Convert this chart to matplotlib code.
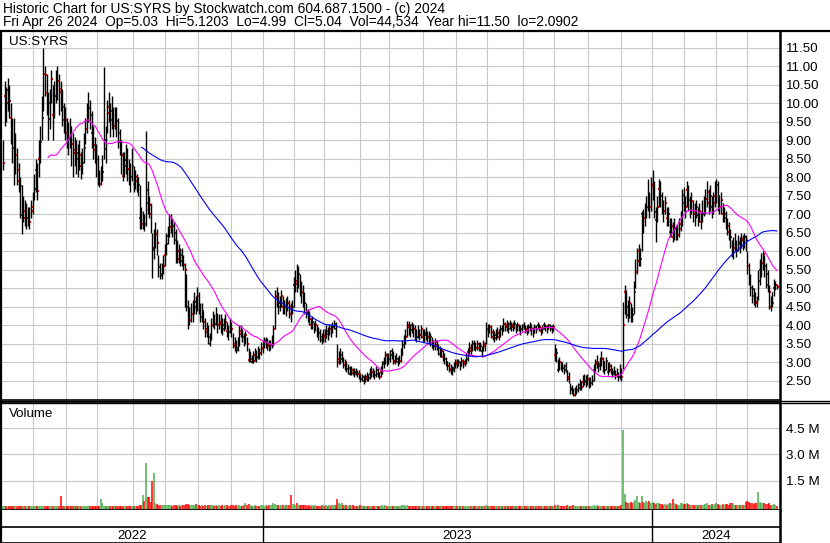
import matplotlib
matplotlib.use('Agg')
import matplotlib.pyplot as plt
from matplotlib.lines import Line2D
import numpy as np
import pandas as pd

plt.rcParams['font.family'] = ['Liberation Sans', 'DejaVu Sans']

# --- daily bars (US:SYRS, May 2022 - Apr 2024) ---
cl_2022 = [8.40, 10.20, 10.00, 10.35, 10.07, 9.60, 8.80, 8.30, 8.60, 8.20,
           7.90, 7.76, 6.98, 7.10, 6.90, 6.90, 7.00, 6.80, 7.10, 7.20,
           7.70, 8.20, 7.64, 8.50, 8.96, 9.60, 10.80, 10.78, 10.28, 9.57,
           10.00, 10.67, 9.68, 10.20, 10.49, 10.60, 10.40, 10.30, 9.90, 9.55,
           9.55, 9.20, 9.05, 9.30, 8.90, 8.67, 8.75, 8.65, 8.50, 8.60,
           8.30, 8.40, 8.80, 9.32, 9.60, 9.88, 9.70, 9.20, 8.87, 8.73,
           8.50, 8.00, 7.83, 8.00, 8.15, 9.00, 8.78, 9.73, 9.90, 9.55,
           9.80, 9.40, 9.60, 9.52, 9.20, 8.96, 8.60, 8.04, 8.30, 8.48,
           8.24, 8.10, 8.00, 8.30, 7.83, 8.00, 7.90, 7.80, 6.90, 6.75,
           6.80, 6.75, 7.65, 7.30, 7.25, 7.00, 6.03, 6.10, 6.48, 6.23,
           5.58, 5.33, 5.40, 5.60, 5.90, 6.20, 6.42, 6.66, 6.80, 6.70,
           6.50, 6.30, 5.80, 6.00, 5.73, 5.90, 5.63, 5.50, 4.49, 4.40,
           4.14, 4.30, 4.30, 4.64, 4.50, 4.80, 4.46, 4.23, 4.40, 4.10,
           3.82, 3.90, 3.70, 3.51, 4.00, 4.20, 4.05, 4.30, 4.00, 4.10,
           4.05, 3.90, 4.00, 4.10, 3.85, 3.82, 4.00, 3.90, 3.50, 3.45,
           3.33, 3.40, 3.78, 3.85, 3.70, 3.60, 3.75, 3.50, 3.06, 3.10,
           3.01, 3.05, 3.20, 3.15, 3.30, 3.25, 3.37, 3.40]
hi_2022 = [9.00, 10.60, 10.45, 10.70, 10.50, 10.00, 9.60, 9.60, 9.20, 8.80,
           8.40, 8.00, 7.80, 7.50, 7.40, 7.30, 7.20, 7.20, 7.40, 7.60,
           8.10, 8.50, 8.40, 9.00, 9.40, 10.20, 11.50, 11.00, 10.80, 10.30,
           10.40, 10.90, 10.50, 10.60, 10.90, 11.00, 10.80, 10.60, 10.40, 10.00,
           9.90, 9.60, 9.50, 9.60, 9.40, 9.20, 9.10, 9.00, 8.90, 9.00,
           8.70, 8.80, 9.20, 9.60, 10.00, 10.30, 10.10, 9.80, 9.40, 9.10,
           8.90, 8.60, 8.20, 8.30, 8.60, 10.99, 9.40, 10.10, 10.30, 10.00,
           10.20, 9.90, 9.90, 9.90, 9.60, 9.30, 9.00, 8.70, 8.70, 8.90,
           8.80, 8.50, 8.40, 8.80, 8.30, 8.20, 8.10, 8.00, 7.80, 7.20,
           7.10, 7.00, 9.26, 7.90, 7.50, 7.30, 6.50, 6.60, 6.80, 6.60,
           5.90, 5.70, 5.70, 5.90, 6.20, 6.50, 6.70, 7.00, 7.00, 6.90,
           6.80, 6.60, 6.30, 6.20, 6.10, 6.10, 5.90, 5.70, 5.40, 4.70,
           4.50, 4.60, 4.70, 4.90, 4.80, 5.04, 4.90, 4.60, 4.60, 4.40,
           4.20, 4.10, 4.00, 3.80, 4.20, 4.40, 4.30, 4.50, 4.30, 4.30,
           4.30, 4.20, 4.20, 4.30, 4.10, 4.00, 4.20, 4.10, 3.80, 3.70,
           3.60, 3.70, 4.00, 4.00, 3.90, 3.80, 3.85, 3.70, 3.40, 3.30,
           3.20, 3.30, 3.40, 3.35, 3.45, 3.40, 3.55, 3.60]
lo_2022 = [8.20, 9.40, 9.50, 9.80, 9.60, 8.90, 8.40, 7.80, 8.10, 7.80,
           7.60, 6.90, 6.48, 6.80, 6.70, 6.60, 6.70, 6.60, 6.90, 7.00,
           7.40, 7.60, 7.40, 8.00, 8.40, 9.00, 9.80, 10.20, 9.70, 9.00,
           9.30, 10.00, 9.00, 9.60, 10.00, 10.10, 9.70, 9.80, 9.40, 9.20,
           9.00, 8.80, 8.60, 8.80, 8.30, 8.00, 8.30, 8.10, 8.00, 8.20,
           7.97, 8.10, 8.40, 8.90, 9.20, 9.50, 9.30, 8.80, 8.50, 8.40,
           8.00, 7.80, 7.75, 7.80, 7.90, 8.50, 8.40, 9.20, 9.50, 9.10,
           9.30, 9.10, 9.30, 9.10, 8.80, 8.60, 8.10, 7.90, 8.00, 8.10,
           7.90, 7.80, 7.60, 7.90, 7.60, 7.70, 7.60, 7.50, 6.60, 6.60,
           6.60, 6.55, 6.70, 7.00, 6.90, 6.50, 5.27, 5.80, 6.10, 5.90,
           5.30, 5.25, 5.25, 5.40, 5.60, 5.90, 6.20, 6.40, 6.50, 6.40,
           6.20, 5.70, 5.70, 5.70, 5.60, 5.60, 5.50, 4.50, 4.40, 3.90,
           4.00, 4.10, 4.10, 4.30, 4.30, 4.40, 4.30, 4.10, 4.10, 3.90,
           3.70, 3.70, 3.50, 3.45, 3.60, 3.95, 3.90, 4.00, 3.80, 3.90,
           3.80, 3.75, 3.85, 3.90, 3.70, 3.60, 3.80, 3.70, 3.40, 3.30,
           3.25, 3.30, 3.45, 3.70, 3.55, 3.45, 3.50, 3.30, 3.00, 3.00,
           2.98, 2.98, 3.05, 3.00, 3.10, 3.10, 3.20, 3.25]

cl_2023 = [3.55, 3.60, 3.50, 3.45, 3.46, 3.50, 3.91, 4.77, 4.80, 4.50,
           4.60, 4.80, 4.50, 4.50, 4.45, 4.60, 4.50, 4.30, 4.50, 5.09,
           5.20, 5.13, 5.40, 5.00, 4.90, 4.73, 4.60, 4.36, 4.30, 4.18,
           4.00, 4.10, 3.95, 4.00, 3.87, 3.80, 3.69, 3.60, 3.75, 3.70,
           3.85, 3.78, 3.90, 3.87, 3.96, 4.05, 3.90, 3.01, 3.10, 3.10,
           3.20, 2.92, 3.00, 2.83, 2.85, 2.70, 2.80, 2.72, 2.70, 2.75,
           2.68, 2.70, 2.56, 2.60, 2.50, 2.56, 2.62, 2.58, 2.70, 2.75,
           2.68, 2.65, 2.80, 2.70, 2.62, 2.75, 2.97, 3.00, 3.20, 3.00,
           3.10, 3.19, 3.30, 3.00, 3.05, 3.10, 3.00, 3.05, 3.20, 3.46,
           3.60, 3.70, 4.00, 3.95, 3.87, 4.00, 3.90, 3.80, 3.70, 3.85,
           3.75, 3.90, 3.70, 3.73, 3.80, 3.70, 3.65, 3.70, 3.50, 3.45,
           3.55, 3.46, 3.40, 3.24, 3.30, 3.15, 3.10, 3.00, 2.90, 2.83,
           2.80, 2.79, 2.85, 3.01, 2.95, 3.00, 2.90, 3.05, 2.95, 3.00,
           3.10, 3.28, 3.40, 3.30, 3.50, 3.45, 3.40, 3.50, 3.40, 3.45,
           3.30, 3.50, 3.45, 3.91, 3.85, 3.95, 3.82, 3.70, 3.65, 3.75,
           3.80, 3.70, 3.90, 3.85, 4.05, 3.95, 4.00, 3.90, 4.05, 4.00,
           3.95, 4.05, 3.90, 4.00, 3.95, 3.90, 3.95, 4.00, 3.90, 3.85,
           3.95, 4.00, 3.90, 3.80, 3.95, 3.90, 4.00, 3.95, 3.85, 3.90,
           4.00, 3.95, 3.90, 4.00, 3.95, 3.90, 3.95, 3.19, 3.25, 2.79,
           3.00, 2.95, 2.85, 2.80, 2.90, 2.56, 2.60, 2.25, 2.30, 2.11,
           2.20, 2.25, 2.30, 2.40, 2.35, 2.47, 2.50, 2.47, 2.55, 2.40,
           2.45, 2.50, 2.79, 2.95, 3.00, 2.90, 2.97, 3.10, 3.00, 2.80,
           3.05, 2.75, 2.90, 2.80, 2.70, 2.75, 2.65, 2.70, 2.62, 2.80,
           2.60, 4.00, 4.91, 4.50, 4.29, 4.60, 4.30, 4.29, 4.90, 5.45,
           5.75, 6.00, 5.80, 7.00, 6.90, 7.10, 7.20, 7.50, 7.20, 7.77]
hi_2023 = [3.70, 3.70, 3.65, 3.60, 3.60, 3.75, 4.00, 4.95, 5.05, 4.90,
           4.80, 4.95, 4.80, 4.70, 4.75, 4.80, 4.70, 4.60, 4.70, 5.30,
           5.50, 5.67, 5.60, 5.40, 5.20, 5.10, 4.90, 4.60, 4.45, 4.40,
           4.20, 4.25, 4.10, 4.15, 4.05, 3.95, 3.90, 3.80, 3.90, 3.90,
           4.00, 3.95, 4.05, 4.00, 4.10, 4.15, 4.10, 3.50, 3.30, 3.40,
           3.30, 3.15, 3.10, 3.00, 2.95, 2.90, 2.90, 2.85, 2.85, 2.85,
           2.80, 2.80, 2.70, 2.70, 2.65, 2.70, 2.75, 2.70, 2.85, 2.90,
           2.85, 2.80, 2.90, 2.85, 2.75, 2.90, 3.05, 3.15, 3.30, 3.25,
           3.25, 3.35, 3.40, 3.30, 3.20, 3.25, 3.15, 3.20, 3.40, 3.60,
           3.75, 3.90, 4.12, 4.12, 4.05, 4.10, 4.05, 4.00, 3.90, 4.00,
           3.90, 4.00, 3.90, 3.90, 3.95, 3.85, 3.85, 3.80, 3.70, 3.60,
           3.65, 3.60, 3.50, 3.45, 3.40, 3.35, 3.25, 3.15, 3.05, 3.00,
           2.95, 2.90, 3.00, 3.10, 3.10, 3.10, 3.05, 3.15, 3.10, 3.10,
           3.25, 3.40, 3.55, 3.50, 3.60, 3.60, 3.55, 3.60, 3.55, 3.55,
           3.45, 3.60, 3.55, 4.10, 4.05, 4.05, 4.00, 3.90, 3.85, 3.90,
           3.95, 3.90, 4.00, 4.00, 4.20, 4.10, 4.15, 4.10, 4.15, 4.10,
           4.10, 4.15, 4.05, 4.10, 4.05, 4.00, 4.05, 4.10, 4.00, 4.00,
           4.05, 4.10, 4.00, 3.95, 4.05, 4.00, 4.10, 4.05, 3.95, 4.00,
           4.10, 4.05, 4.00, 4.05, 4.05, 4.00, 4.05, 3.50, 3.40, 3.10,
           3.15, 3.05, 3.00, 2.95, 3.00, 2.80, 2.75, 2.45, 2.40, 2.30,
           2.35, 2.40, 2.45, 2.55, 2.50, 2.65, 2.70, 2.65, 2.70, 2.60,
           2.60, 2.65, 2.95, 3.10, 3.20, 3.05, 3.15, 3.30, 3.15, 3.05,
           3.15, 3.00, 3.00, 2.95, 2.85, 2.90, 2.80, 2.85, 2.75, 2.95,
           2.85, 4.64, 5.10, 4.95, 4.70, 4.80, 4.60, 4.50, 5.20, 5.80,
           6.10, 6.20, 6.10, 7.10, 7.15, 7.30, 7.50, 7.95, 7.60, 8.00]
lo_2023 = [3.40, 3.40, 3.35, 3.30, 3.35, 3.40, 3.45, 3.90, 4.50, 4.30,
           4.40, 4.50, 4.30, 4.30, 4.25, 4.40, 4.20, 4.10, 4.30, 4.50,
           4.90, 4.90, 5.00, 4.80, 4.60, 4.50, 4.30, 4.20, 4.10, 4.00,
           3.90, 3.90, 3.80, 3.85, 3.70, 3.60, 3.55, 3.50, 3.55, 3.55,
           3.65, 3.60, 3.75, 3.70, 3.80, 3.90, 3.70, 2.88, 2.95, 2.95,
           3.00, 2.85, 2.80, 2.75, 2.70, 2.65, 2.65, 2.65, 2.62, 2.65,
           2.60, 2.55, 2.48, 2.50, 2.42, 2.48, 2.50, 2.50, 2.55, 2.62,
           2.60, 2.55, 2.62, 2.60, 2.55, 2.60, 2.70, 2.85, 2.95, 2.90,
           2.95, 3.00, 3.10, 2.95, 2.95, 3.00, 2.90, 2.95, 3.00, 3.20,
           3.40, 3.50, 3.70, 3.75, 3.70, 3.80, 3.70, 3.60, 3.55, 3.65,
           3.60, 3.65, 3.55, 3.55, 3.60, 3.55, 3.50, 3.45, 3.40, 3.35,
           3.35, 3.35, 3.20, 3.15, 3.15, 3.05, 2.95, 2.90, 2.80, 2.75,
           2.70, 2.65, 2.75, 2.85, 2.85, 2.90, 2.80, 2.90, 2.85, 2.90,
           2.95, 3.05, 3.20, 3.20, 3.30, 3.35, 3.30, 3.35, 3.30, 3.30,
           3.15, 3.30, 3.30, 3.50, 3.70, 3.80, 3.65, 3.60, 3.55, 3.60,
           3.65, 3.60, 3.70, 3.75, 3.85, 3.85, 3.85, 3.80, 3.90, 3.85,
           3.85, 3.90, 3.80, 3.85, 3.85, 3.75, 3.85, 3.90, 3.80, 3.75,
           3.80, 3.85, 3.75, 3.70, 3.80, 3.80, 3.90, 3.85, 3.75, 3.80,
           3.90, 3.85, 3.80, 3.90, 3.85, 3.80, 3.85, 3.05, 3.00, 2.75,
           2.80, 2.80, 2.75, 2.70, 2.75, 2.50, 2.45, 2.15, 2.15, 2.09,
           2.10, 2.15, 2.20, 2.25, 2.25, 2.35, 2.40, 2.35, 2.40, 2.30,
           2.35, 2.40, 2.50, 2.75, 2.85, 2.75, 2.80, 2.90, 2.75, 2.70,
           2.80, 2.65, 2.75, 2.70, 2.60, 2.65, 2.55, 2.60, 2.50, 2.55,
           2.50, 2.83, 4.30, 4.20, 4.10, 4.20, 4.10, 4.10, 4.30, 5.00,
           5.40, 5.60, 5.60, 6.00, 6.50, 6.70, 6.90, 7.10, 6.90, 7.10]

cl_2024 = [7.83, 7.07, 6.84, 7.20, 7.70, 7.50, 7.29, 7.10, 7.30, 6.90,
           7.00, 6.53, 6.70, 6.40, 6.60, 6.50, 6.45, 6.60, 6.75, 7.52,
           7.30, 7.20, 7.65, 7.40, 7.20, 7.35, 7.10, 7.00, 7.20, 6.98,
           7.10, 6.80, 7.00, 7.25, 7.43, 7.60, 7.30, 7.50, 7.20, 7.30, 7.50,
           7.79, 7.50, 7.20, 7.40, 7.00, 7.00, 6.90, 6.70, 6.53, 6.40,
           6.03, 6.10, 6.20, 6.00, 6.26, 6.20, 6.35, 6.30, 6.40, 6.30,
           5.60, 5.31, 5.00, 4.99, 4.80, 4.64, 4.60, 5.20, 5.49, 5.70,
           5.94, 5.60, 5.40, 5.09, 4.90, 4.50, 4.60, 5.00, 5.10, 5.04]
hi_2024 = [8.19, 7.90, 7.20, 7.50, 7.97, 7.90, 7.60, 7.40, 7.50, 7.20,
           7.20, 6.90, 6.90, 6.80, 6.90, 6.70, 6.75, 6.90, 7.10, 7.70,
           7.75, 7.50, 7.90, 7.80, 7.50, 7.60, 7.40, 7.30, 7.40, 7.20,
           7.30, 7.10, 7.40, 7.50, 7.70, 7.90, 7.70, 7.80, 7.50, 7.60, 7.90,
           7.97, 7.90, 7.50, 7.60, 7.30, 7.20, 7.10, 6.90, 6.80, 6.60,
           6.30, 6.40, 6.50, 6.30, 6.45, 6.40, 6.50, 6.45, 6.50, 6.45,
           6.00, 5.70, 5.40, 5.10, 5.00, 4.90, 4.80, 5.50, 5.80, 5.95,
           6.00, 5.90, 5.70, 5.50, 5.10, 4.80, 4.90, 5.25, 5.20, 5.12]
lo_2024 = [7.40, 6.90, 6.26, 6.80, 7.20, 7.20, 7.00, 6.80, 7.00, 6.70,
           6.70, 6.40, 6.40, 6.26, 6.30, 6.30, 6.30, 6.40, 6.55, 6.70,
           7.10, 6.90, 7.20, 7.10, 6.90, 7.00, 6.80, 6.70, 6.90, 6.70,
           6.80, 6.60, 6.80, 6.95, 7.00, 7.20, 7.00, 7.10, 6.90, 7.00, 7.20,
           7.30, 7.10, 7.00, 7.00, 6.80, 6.80, 6.60, 6.45, 6.30, 6.10,
           5.85, 5.80, 6.00, 5.85, 6.00, 5.95, 6.10, 6.05, 6.10, 6.00,
           5.40, 5.10, 4.80, 4.60, 4.55, 4.50, 4.50, 4.70, 5.10, 5.30,
           5.50, 5.30, 5.00, 4.90, 4.45, 4.40, 4.50, 4.80, 4.95, 4.99]

# volume in millions of shares
vol_2022 = [0.06, 0.05, 0.04, 0.06, 0.05, 0.04, 0.07, 0.06, 0.05, 0.04,
            0.05, 0.04, 0.06, 0.05, 0.04, 0.04, 0.03, 0.05, 0.04, 0.04,
            0.05, 0.06, 0.04, 0.05, 0.07, 0.06, 0.08, 0.05, 0.04, 0.05,
            0.04, 0.05, 0.03, 0.04, 0.05, 0.04, 0.06, 0.65, 0.05, 0.04,
            0.05, 0.04, 0.06, 0.05, 0.04, 0.03, 0.04, 0.05, 0.03, 0.04,
            0.03, 0.04, 0.05, 0.06, 0.05, 0.04, 0.05, 0.04, 0.03, 0.04,
            0.04, 0.05, 0.06, 0.46, 0.23, 0.08, 0.05, 0.06, 0.05, 0.04,
            0.04, 0.03, 0.05, 0.04, 0.03, 0.04, 0.03, 0.04, 0.05, 0.03,
            0.04, 0.03, 0.05, 0.04, 0.03, 0.04, 0.05, 0.08, 0.12, 0.10,
            0.70, 0.35, 2.54, 0.58, 0.55, 0.30, 1.48, 1.92, 0.20, 0.15,
            0.12, 0.14, 0.10, 0.13, 0.09, 0.11, 0.12, 0.10, 0.14, 0.08,
            0.09, 0.11, 0.08, 0.10, 0.07, 0.09, 0.10, 0.12, 0.18, 0.15,
            0.10, 0.12, 0.09, 0.11, 0.15, 0.13, 0.10, 0.08, 0.09, 0.07,
            0.10, 0.08, 0.12, 0.09, 0.11, 0.13, 0.08, 0.10, 0.07, 0.09,
            0.08, 0.10, 0.07, 0.09, 0.12, 0.08, 0.07, 0.09, 0.11, 0.08,
            0.10, 0.07, 0.09, 0.08, 0.06, 0.10, 0.20, 0.12, 0.15, 0.09,
            0.08, 0.07, 0.09, 0.06, 0.08, 0.07, 0.10, 0.09]
vol_2023 = [0.08, 0.10, 0.07, 0.09, 0.12, 0.10, 0.20, 0.15, 0.12, 0.10,
            0.08, 0.10, 0.09, 0.07, 0.10, 0.12, 0.09, 0.71, 0.18, 0.15,
            0.14, 0.20, 0.12, 0.10, 0.13, 0.09, 0.11, 0.10, 0.08, 0.12,
            0.07, 0.09, 0.08, 0.10, 0.06, 0.08, 0.07, 0.09, 0.11, 0.08,
            0.10, 0.07, 0.09, 0.08, 0.12, 0.10, 0.14, 0.48, 0.22, 0.18,
            0.20, 0.12, 0.10, 0.09, 0.08, 0.10, 0.07, 0.09, 0.06, 0.08,
            0.07, 0.06, 0.09, 0.05, 0.07, 0.08, 0.06, 0.07, 0.05, 0.08,
            0.06, 0.07, 0.05, 0.08, 0.06, 0.05, 0.09, 0.07, 0.10, 0.08,
            0.06, 0.08, 0.07, 0.05, 0.06, 0.07, 0.05, 0.06, 0.08, 0.10,
            0.09, 0.08, 0.12, 0.07, 0.06, 0.08, 0.07, 0.05, 0.06, 0.07,
            0.05, 0.06, 0.04, 0.05, 0.06, 0.04, 0.05, 0.07, 0.06, 0.05,
            0.04, 0.06, 0.05, 0.08, 0.06, 0.05, 0.07, 0.06, 0.05, 0.07,
            0.05, 0.06, 0.04, 0.05, 0.06, 0.05, 0.04, 0.06, 0.05, 0.04,
            0.05, 0.08, 0.06, 0.05, 0.07, 0.05, 0.04, 0.06, 0.05, 0.04,
            0.05, 0.06, 0.04, 0.09, 0.07, 0.05, 0.06, 0.05, 0.04, 0.05,
            0.04, 0.05, 0.06, 0.04, 0.07, 0.05, 0.04, 0.05, 0.06, 0.04,
            0.05, 0.04, 0.06, 0.05, 0.04, 0.03, 0.05, 0.04, 0.03, 0.04,
            0.05, 0.04, 0.03, 0.05, 0.04, 0.03, 0.04, 0.05, 0.03, 0.04,
            0.03, 0.04, 0.05, 0.03, 0.04, 0.03, 0.05, 0.12, 0.08, 0.10,
            0.07, 0.06, 0.08, 0.05, 0.07, 0.09, 0.06, 0.08, 0.07, 0.10,
            0.06, 0.05, 0.07, 0.08, 0.06, 0.05, 0.07, 0.06, 0.05, 0.04,
            0.05, 0.06, 0.09, 0.07, 0.10, 0.06, 0.05, 0.08, 0.06, 0.05,
            0.07, 0.05, 0.06, 0.04, 0.05, 0.06, 0.04, 0.05, 0.08, 0.06,
            0.10, 4.42, 0.75, 0.30, 0.25, 0.20, 0.28, 0.22, 0.30, 0.40,
            0.65, 0.30, 0.25, 0.62, 0.28, 0.22, 0.35, 0.30, 0.35, 0.25]
vol_2024 = [0.30, 0.22, 0.18, 0.20, 0.25, 0.15, 0.18, 0.14, 0.16, 0.12,
            0.15, 0.20, 0.18, 0.46, 0.22, 0.15, 0.12, 0.14, 0.20, 0.25,
            0.18, 0.15, 0.20, 0.16, 0.12, 0.14, 0.11, 0.13, 0.10, 0.12,
            0.11, 0.14, 0.12, 0.10, 0.16, 0.20, 0.14, 0.12, 0.15, 0.13, 0.18,
            0.25, 0.18, 0.14, 0.12, 0.15, 0.13, 0.16, 0.18, 0.14, 0.20,
            0.22, 0.15, 0.12, 0.14, 0.11, 0.13, 0.10, 0.14, 0.12, 0.30,
            0.35, 0.28, 0.25, 0.20, 0.18, 0.22, 0.20, 0.85, 0.30, 0.22,
            0.25, 0.20, 0.18, 0.15, 0.20, 0.14, 0.12, 0.15, 0.10, 0.05]

nyse_holidays = ['2022-05-30', '2022-06-20', '2022-07-04', '2022-09-05', '2022-11-24',
                 '2022-12-26', '2023-01-02', '2023-01-16', '2023-02-20', '2023-04-07',
                 '2023-05-29', '2023-06-19', '2023-07-04', '2023-09-04', '2023-11-23',
                 '2023-12-25', '2024-01-01', '2024-01-15', '2024-02-19', '2024-03-29']

header_1 = 'Historic Chart for US:SYRS by Stockwatch.com 604.687.1500 - (c) 2024'
header_2 = 'Fri Apr 26 2024  Op=5.03  Hi=5.1203  Lo=4.99  Cl=5.04  Vol=44,534  Year hi=11.50  lo=2.0902'
price_ticks = np.arange(2.5, 11.51, 0.5)
vol_ticks = [1.5, 3.0, 4.5]

hi = np.array(hi_2022 + hi_2023 + hi_2024)
lo = np.array(lo_2022 + lo_2023 + lo_2024)
cl = np.array(cl_2022 + cl_2023 + cl_2024)
vol = np.array(vol_2022 + vol_2023 + vol_2024)
n = len(cl)
x = np.arange(n)
dates = pd.bdate_range('2022-05-03', periods=n, freq='C', holidays=nyse_holidays)
months = np.asarray(dates.month)
years = np.asarray(dates.year)
month_idx = np.flatnonzero(np.diff(months) != 0) + 1
year_idx = np.flatnonzero(np.diff(years) != 0) + 1

ma_fast = pd.Series(cl).rolling(30).mean()
ma_slow = pd.Series(cl).rolling(90).mean()
up = np.r_[True, cl[1:] >= cl[:-1]]
vol_colors = np.where(up, '#4caf50', '#ff0000')

# --- layout in pixels ---
W, H = 830, 543
def px_rect(x0, y0, x1, y1):
    return [x0 / W, 1 - y1 / H, (x1 - x0) / W, (y1 - y0) / H]

fig = plt.figure(figsize=(W / 100, H / 100), dpi=100)
fig.patch.set_facecolor('white')
xl = (-1.3, 500.0)
grid_c = '#c8c8c8'
vlo = -0.173
fs = 9.6

ax_p = fig.add_axes(px_rect(1, 32, 780, 400))
ax_v = fig.add_axes(px_rect(1, 403, 780, 510))
ax_d = fig.add_axes(px_rect(1, 510, 780, 543))

for ax in (ax_p, ax_v, ax_d):
    ax.set_xlim(*xl)
    ax.set_xticks([])
    ax.tick_params(axis='y', length=0, pad=4, labelsize=fs)
    for s in ax.spines.values():
        s.set_color('black')
        s.set_linewidth(1.2)
    ax.spines['left'].set_linewidth(1.6)
    ax.spines['right'].set_linewidth(1.8)

# price panel
ax_p.set_ylim(1.986, 11.93)
ax_p.yaxis.tick_right()
ax_p.set_yticks(price_ticks)
ax_p.set_yticklabels(['%.2f' % t for t in price_ticks])
for t in price_ticks:
    ax_p.axhline(t, color=grid_c, lw=0.8, zorder=0)
for m in month_idx:
    ax_p.axvline(m - 0.5, color=grid_c, lw=0.8, zorder=0)
ax_p.plot(x + 0.45, cl, 's', ms=1.8, mew=0, color='red', zorder=2)
ax_p.vlines(x, lo, hi, color='black', lw=1.0, zorder=3)
ax_p.plot(x, ma_fast, color='#ff00ff', lw=0.8, zorder=4)
ax_p.plot(x, ma_slow, color='#0000ff', lw=0.8, zorder=4)
ax_p.spines['top'].set_visible(False)
ax_p.text(0.01, 0.99, 'US:SYRS', transform=ax_p.transAxes, fontsize=fs, va='top')

# volume panel
ax_v.set_ylim(vlo, 5.94)
ax_v.yaxis.tick_right()
ax_v.set_yticks(vol_ticks)
ax_v.set_yticklabels(['%.1f M' % t for t in vol_ticks])
for t in vol_ticks:
    ax_v.axhline(t, color=grid_c, lw=0.8, zorder=0)
for m in month_idx:
    ax_v.axvline(m - 0.5, color=grid_c, lw=0.8, zorder=0)
ax_v.vlines(x, vlo, vol, colors=vol_colors, lw=1.1, zorder=2)
ax_v.text(0.01, 0.95, 'Volume', transform=ax_v.transAxes, fontsize=fs, va='top')

# date strip
ax_d.set_ylim(0, 1)
ax_d.set_yticks([])
ax_d.spines['top'].set_visible(False)
ax_d.axhline(0.5, color='black', lw=1.2)
edges = [xl[0]] + [i - 0.5 for i in year_idx] + [xl[1]]
for i in year_idx:
    ax_d.axvline(i - 0.5, color='black', lw=1.0)
labels = [str(years[0])] + [str(years[i]) for i in year_idx]
for a, b, lab in zip(edges[:-1], edges[1:], labels):
    ax_d.text((a + b) / 2, 0.22, lab, ha='center', va='center', fontsize=fs)

# header and separators
fig.text(3 / W, 1 - 9 / H, header_1, fontsize=9.9, va='center')
fig.text(3 / W, 1 - 22 / H, header_2, fontsize=9.9, va='center')
for yy, lw in ((31, 1.6), (400.5, 1.0), (402.8, 1.0)):
    fig.add_artist(Line2D([0, 1], [1 - yy / H] * 2, color='black', lw=lw))

fig.savefig('out.png', dpi=100)
